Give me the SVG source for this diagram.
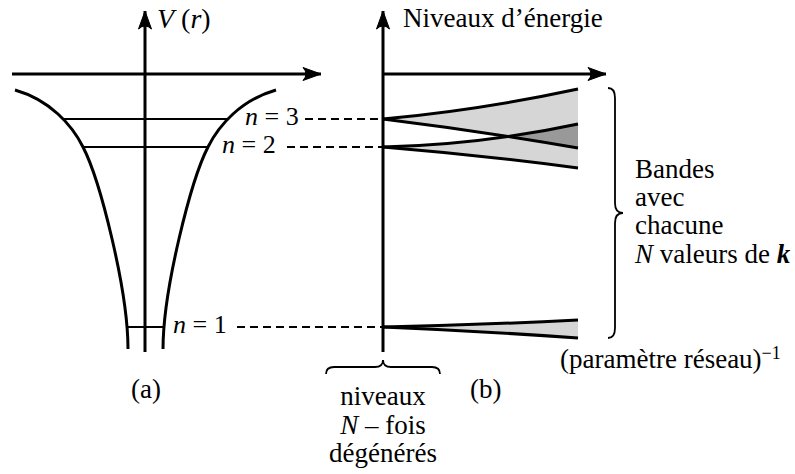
<svg xmlns="http://www.w3.org/2000/svg" width="795" height="474" viewBox="0 0 795 474">
<style>
text{font-family:"Liberation Serif","Times New Roman",serif;font-size:27px;fill:#000}
.it{font-style:italic}
.lab{font-size:26px}
.ax{stroke:#000;stroke-width:3;fill:none}
.cv{stroke:#000;stroke-width:3;fill:none}
.lv{stroke:#000;stroke-width:2;fill:none}
.ds{stroke:#000;stroke-width:2;stroke-dasharray:8 5;fill:none}
.br{stroke:#000;stroke-width:1.8;fill:none}
.band{fill:#d6d6d6;stroke:none}
.edge{stroke:#000;stroke-width:3;fill:none}
</style>
<defs>
<marker id="ah" viewBox="-20 -8 22 16" refX="0" refY="0" markerWidth="22" markerHeight="16" markerUnits="userSpaceOnUse" orient="auto">
<path d="M0,0 L-18,-6.5 Q-12,0 -18,6.5 Z" fill="#000" stroke="#000" stroke-width="1" stroke-linejoin="round"/>
</marker>
<clipPath id="c3"><path d="M383,119 Q480,110 578,89 L578,148 Q480,131 383,119 Z"/></clipPath>
</defs>
<g id="panel-a">
<g id="axes-a">
<line class="ax" x1="145" y1="352" x2="145" y2="11" marker-end="url(#ah)"/>
<line class="ax" x1="12" y1="74" x2="321" y2="74" marker-end="url(#ah)"/>
</g>
<g id="potential">
<path class="cv" d="M15,90 C50,100 72,125 83,147 C100,180 128,290 128,349"/>
<path class="cv" d="M276,90 C241,100 219,125 208,147 C191,180 163,290 163,349"/>
</g>
<g id="levels">
<line class="lv" x1="63" y1="119" x2="229" y2="119"/>
<line class="lv" x1="83" y1="147" x2="208" y2="147"/>
<line class="lv" x1="128" y1="327" x2="163" y2="327"/>
</g>
<text x="157" y="28" style="font-size:28px"><tspan class="it">V</tspan> (<tspan class="it">r</tspan>)</text>
<text class="lab" x="245" y="125"><tspan class="it">n</tspan> = 3</text>
<text class="lab" x="222" y="153"><tspan class="it">n</tspan> = 2</text>
<text class="lab" x="173" y="333"><tspan class="it">n</tspan> = 1</text>
<text x="131" y="398">(a)</text>
</g>
<g id="connectors">
<line class="ds" x1="305" y1="119" x2="382" y2="119"/>
<line class="ds" x1="287" y1="147" x2="382" y2="147"/>
<line class="ds" x1="237" y1="327" x2="382" y2="327"/>
</g>
<g id="panel-b">
<g id="bands">
<path class="band" d="M383,119 Q480,110 578,89 L578,148 Q480,131 383,119 Z"/>
<path class="band" d="M383,147 Q480,145 578,124 L578,168 Q480,155 383,147 Z"/>
<path d="M383,147 Q480,145 578,124 L578,168 Q480,155 383,147 Z" fill="#999" clip-path="url(#c3)"/>
<path class="band" d="M383,327 Q480,325 578,320 L578,338 Q480,331 383,327 Z"/>
<path class="edge" d="M383,119 Q480,110 578,89"/>
<path class="edge" d="M383,119 Q480,131 578,148"/>
<path class="edge" d="M383,147 Q480,145 578,124"/>
<path class="edge" d="M383,147 Q480,155 578,168"/>
<path class="edge" d="M383,327 Q480,325 578,320"/>
<path class="edge" d="M383,327 Q480,331 578,338"/>
</g>
<g id="axes-b">
<line class="ax" x1="383" y1="352" x2="383" y2="11" marker-end="url(#ah)"/>
<line class="ax" x1="383" y1="74" x2="606" y2="74" marker-end="url(#ah)"/>
</g>
<text x="403" y="27">Niveaux d’énergie</text>
<text x="560" y="368">(paramètre réseau)<tspan dy="-9" style="font-size:18px">−1</tspan></text>
<text x="470" y="398">(b)</text>
</g>
<g id="brace-bands">
<path class="br" d="M608,88 Q615,88 615,98 L615,203 Q615,213 623,213 Q615,213 615,223 L615,328 Q615,338 608,338"/>
<text x="635" y="178">Bandes</text>
<text x="635" y="206">avec</text>
<text x="635" y="234">chacune</text>
<text x="635" y="263"><tspan class="it">N</tspan> valeurs de <tspan class="it" font-weight="bold">k</tspan></text>
</g>
<g id="brace-levels">
<path class="br" d="M326,374 Q326,367 334,367 L375,367 Q383,367 383,360 Q383,367 391,367 L432,367 Q440,367 440,374"/>
<text x="383" y="405" text-anchor="middle">niveaux</text>
<text x="383" y="434" text-anchor="middle"><tspan class="it">N</tspan> – fois</text>
<text x="383" y="462" text-anchor="middle">dégénérés</text>
</g>
</svg>
